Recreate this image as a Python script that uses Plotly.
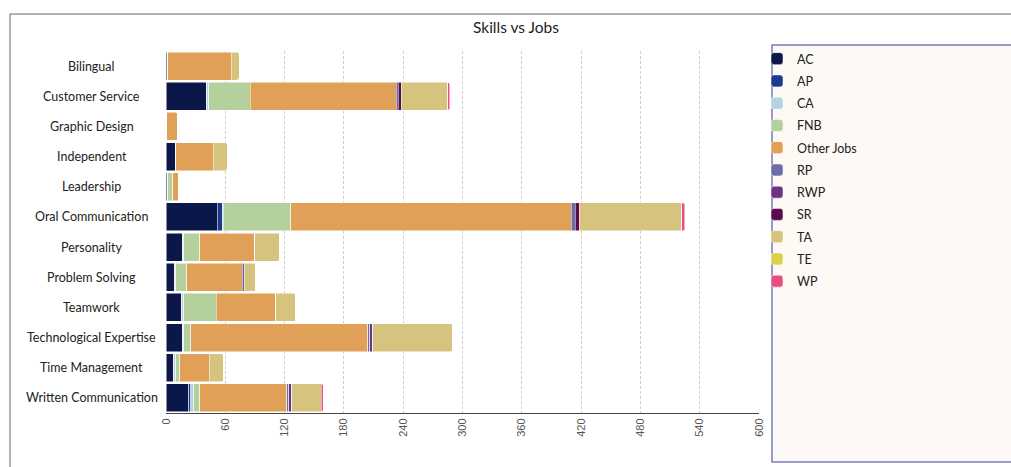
import plotly.graph_objects as go

skills = [
    "Bilingual", "Customer Service", "Graphic Design", "Independent", "Leadership",
    "Oral Communication", "Personality", "Problem Solving", "Teamwork",
    "Technological Expertise", "Time Management", "Written Communication",
]

# job counts per skill, one list per job type (same order as skills)
ac = [2, 41, 1, 10, 2, 52, 17, 9, 16, 17, 8, 23]
ap = [0, 0, 0, 0, 0, 5, 0, 0, 0, 0, 0, 2]
ca = [0, 2, 0, 0, 0, 1, 1, 1, 2, 1, 2, 3]
fnb = [0, 42, 0, 0, 5, 68, 16, 11, 33, 7, 4, 6]
other_jobs = [64, 148, 11, 38, 6, 284, 56, 56, 60, 179, 30, 88]
rp = [0, 2, 0, 0, 0, 4, 0, 2, 0, 2, 0, 2]
rwp = [0, 0, 0, 0, 0, 0, 0, 0, 0, 3, 0, 3]
sr = [0, 3, 0, 0, 0, 4, 0, 0, 0, 0, 0, 0]
ta = [8, 47, 0, 14, 0, 104, 25, 12, 20, 81, 14, 30]
te = [0, 0, 0, 0, 0, 0, 0, 0, 0, 0, 0, 0]
wp = [0, 2, 0, 0, 0, 3, 0, 0, 0, 0, 0, 2]

series = [
    ("AC", ac, "#0c1749"),
    ("AP", ap, "#1e3a8f"),
    ("CA", ca, "#b3d3e3"),
    ("FNB", fnb, "#b4d09c"),
    ("Other Jobs", other_jobs, "#e0a058"),
    ("RP", rp, "#6a6da8"),
    ("RWP", rwp, "#6a3384"),
    ("SR", sr, "#5c0c4e"),
    ("TA", ta, "#d6c37d"),
    ("TE", te, "#dcd04a"),
    ("WP", wp, "#e84f7c"),
]

x_ticks = list(range(0, 601, 60))

fig = go.Figure()
for name, vals, color in series:
    fig.add_trace(go.Bar(
        y=skills, x=vals, name=name, orientation="h",
        legendgroup=name,
        marker=dict(color=color, line=dict(color="white", width=0.5), cornerradius=2),
    ))

# centred category labels on the left
for s in skills:
    fig.add_annotation(
        x=-0.1248, xref="paper", y=s, yref="y", text=s, showarrow=False,
        xanchor="center", font=dict(family="Lato", size=12.5, color="#222"),
    )

L, R, T, B = 166, 252, 51, 54
W, H = 1011, 467
pw, ph = W - L - R, H - T - B

def px(xp):
    return (xp - L) / pw

def py(yp):
    return (H - B - yp) / ph

shapes = [
    # outer frame
    dict(type="rect", xref="paper", yref="paper",
         x0=px(10), x1=px(1015), y0=py(470), y1=py(14),
         line=dict(color="#666", width=1), fillcolor="rgba(0,0,0,0)", layer="below"),
    # legend panel
    dict(type="rect", xref="paper", yref="paper",
         x0=px(772), x1=px(1016), y0=py(462), y1=py(45),
         line=dict(color="#7a78c4", width=1.5), fillcolor="#fdf9f4", layer="below"),
]

fig.update_layout(
    width=W, height=H,
    margin=dict(l=L, r=R, t=T, b=B),
    paper_bgcolor="white", plot_bgcolor="white",
    barmode="stack", bargap=0.07,
    title=dict(text="Skills vs Jobs", x=516 / W, xref="container", xanchor="center",
               y=1 - 28 / H, yanchor="middle",
               font=dict(family="Lato", size=15.5, color="#222")),
    font=dict(family="Lato"),
    showlegend=True,
    legend=dict(
        x=px(757), y=py(44), xanchor="left", yanchor="top",
        bgcolor="rgba(0,0,0,0)", borderwidth=0, maxheight=400,
        traceorder="grouped", tracegroupgap=3,
        font=dict(family="Lato", size=12.5, color="#222"),
    ),
    shapes=shapes,
    xaxis=dict(
        range=[0, 600], tickvals=x_ticks, ticktext=[str(v) for v in x_ticks],
        tickangle=-90, showgrid=True, gridcolor="#cfcfcf", griddash="3px,2px", gridwidth=1,
        showline=True, linecolor="#444", linewidth=1, zeroline=False,
        ticks="", tickfont=dict(family="Liberation Sans", size=11, color="#555"),
    ),
    yaxis=dict(
        categoryorder="array", categoryarray=skills, autorange="reversed",
        showticklabels=False, showgrid=False, zeroline=False,
        showline=False, ticks="",
    ),
)

fig.write_html("out.html")
